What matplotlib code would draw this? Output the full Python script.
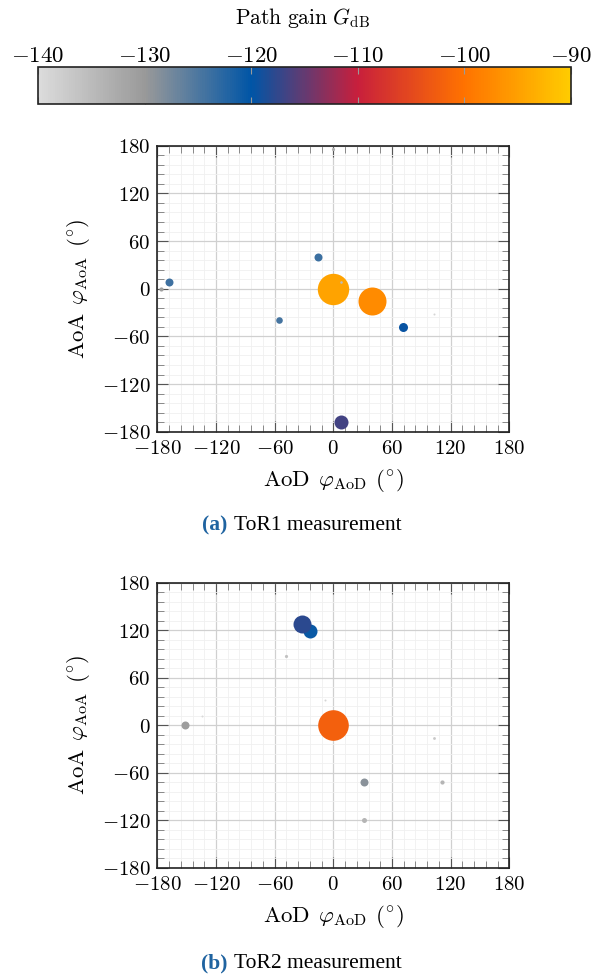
import numpy as np
import matplotlib
matplotlib.use("Agg")
import matplotlib.pyplot as plt
from matplotlib.colors import LinearSegmentedColormap, Normalize
from matplotlib.ticker import MultipleLocator, FuncFormatter
from matplotlib.colorbar import ColorbarBase

plt.rcParams['mathtext.fontset'] = 'cm'
plt.rcParams['font.family'] = ['DejaVu Serif']

# ---------------- data ----------------
# colour scale (path gain, dB) and its anchor colours
cbar_levels = [-140, -130, -120, -110, -100, -90]
cbar_colors = ['#DCDCDC', '#999999', '#0055A6', '#C81F3C', '#FF7200', '#FFCC00']
cbar_ticks = [-140, -130, -120, -110, -100, -90]
axis_ticks = [-180, -120, -60, 0, 60, 120, 180]

# (a) ToR1 measurement
tor1_aod = [0.0, 39.6, 7.5, 71.6, -16.0, -167.7, -55.9, -176.0, 0.0, 7.5, 103.0, 97.0]
tor1_aoa = [0.0, -16.0, -168.0, -47.8, 40.0, 8.4, -40.0, 0.0, 176.0, 8.4, -32.0, 0.0]
tor1_gain = [-94.6, -97.4, -116.7, -119.5, -123.8, -124.0, -124.5, -131.0, -133.0, -135.0, -139.0, -139.5]
tor1_bubble = [31.4, 28.0, 14.0, 9.0, 8.0, 8.0, 6.6, 4.2, 3.2, 2.6, 2.0, 2.0]   # bubble diameter (px)

# (b) ToR2 measurement
tor2_aod = [0.0, -23.8, -32.3, -151.7, 31.7, 111.5, 31.7, -48.4, 103.0, -8.0, -134.0]
tor2_aoa = [0.0, 119.6, 128.0, 0.0, -71.8, -72.0, -120.0, 88.0, -16.0, 32.0, 12.0]
tor2_gain = [-102.2, -120.5, -117.8, -130.5, -129.0, -134.0, -134.0, -136.0, -137.0, -139.0, -139.5]
tor2_bubble = [30.6, 14.0, 18.0, 8.0, 8.0, 4.2, 5.0, 3.2, 2.8, 2.0, 2.0]

captions = [("(a)", "ToR1 measurement"), ("(b)", "ToR2 measurement")]

# ---------------- figure ----------------
W, H = 604, 976
fig = plt.figure(figsize=(W / 100, H / 100), dpi=100)

vmin, vmax = cbar_levels[0], cbar_levels[-1]
cmap = LinearSegmentedColormap.from_list(
    'pathgain',
    [((v - vmin) / (vmax - vmin), c) for v, c in zip(cbar_levels, cbar_colors)])
norm = Normalize(vmin=vmin, vmax=vmax)


def px_rect(x0, y0, x1, y1):
    return [x0 / W, 1 - y1 / H, (x1 - x0) / W, (y1 - y0) / H]


# colourbar
cax = fig.add_axes(px_rect(38, 66.5, 571, 104))
cb = ColorbarBase(cax, cmap=cmap, norm=norm, orientation='horizontal')
cb.set_ticks(cbar_ticks)
cax.xaxis.set_ticks_position('top')
cax.xaxis.set_label_position('top')
cax.xaxis.set_major_formatter(FuncFormatter(lambda v, p: f"${v:g}$"))
cax.tick_params(axis='x', direction='in', length=5, width=0.8, colors='#9A9A9A',
                labelcolor='black', labelsize=16.5, pad=0, bottom=True, top=True)
cb.outline.set_linewidth(1.2)
cb.outline.set_edgecolor('#222222')
fig.text(302 / W, 1 - 18 / H, r'$\mathrm{Path\ gain}\ G_{\mathrm{dB}}$',
         ha='center', va='center', fontsize=15.5)

axes_rects = [px_rect(157.3, 145.7, 509.3, 431.7), px_rect(157.3, 582.7, 509.3, 867.7)]
datasets = [(tor1_aod, tor1_aoa, tor1_gain, tor1_bubble),
            (tor2_aod, tor2_aoa, tor2_gain, tor2_bubble)]
caption_y = [525, 963]

for rect, (aod, aoa, gain, bub), cy, (tag, txt) in zip(axes_rects, datasets, caption_y, captions):
    ax = fig.add_axes(rect)
    ax.set_xlim(-180, 180)
    ax.set_ylim(-180, 180)
    ax.xaxis.set_minor_locator(MultipleLocator(12))
    ax.yaxis.set_minor_locator(MultipleLocator(12))
    ax.set_xticks(axis_ticks)
    ax.set_yticks(axis_ticks)
    fmt = FuncFormatter(lambda v, p: f"${v:g}$")
    ax.xaxis.set_major_formatter(fmt)
    ax.yaxis.set_major_formatter(fmt)
    ax.grid(which='major', color='#D0D0D0', linewidth=0.9)
    ax.grid(which='minor', color='#F0F0F0', linewidth=0.6)
    ax.set_axisbelow(True)
    ax.tick_params(which='major', direction='in', length=8, width=0.8, color='#555555',
                   top=True, right=True, labelsize=15, pad=5)
    ax.tick_params(which='minor', direction='in', length=5, width=0.6, color='#777777',
                   top=True, right=True)
    for s in ax.spines.values():
        s.set_linewidth(1.2)
        s.set_color('#222222')
    sizes = [(d * 72 / 100) ** 2 for d in bub]
    for x, y, g, s in zip(aod, aoa, gain, sizes):
        ax.scatter([x], [y], s=s, c=[g], cmap=cmap, norm=norm, linewidths=0,
                   clip_on=False, zorder=3)
    ax.set_xlabel(r'$\mathrm{AoD}\;\,\varphi_{\mathrm{AoD}}\;\,(^{\circ})$', fontsize=16.5, labelpad=7)
    ax.set_ylabel(r'$\mathrm{AoA}\;\,\varphi_{\mathrm{AoA}}\;\,(^{\circ})$', fontsize=16.5, labelpad=7)

    fig.text(227 / W, 1 - cy / H, tag, ha='right', va='center', fontsize=15.5,
             fontweight='bold', color='#1F63A0', family='Liberation Serif')
    fig.text(234 / W, 1 - cy / H, txt, ha='left', va='center', fontsize=15.5,
             color='black', family='Liberation Serif')

fig.savefig('out.png', dpi=100)
